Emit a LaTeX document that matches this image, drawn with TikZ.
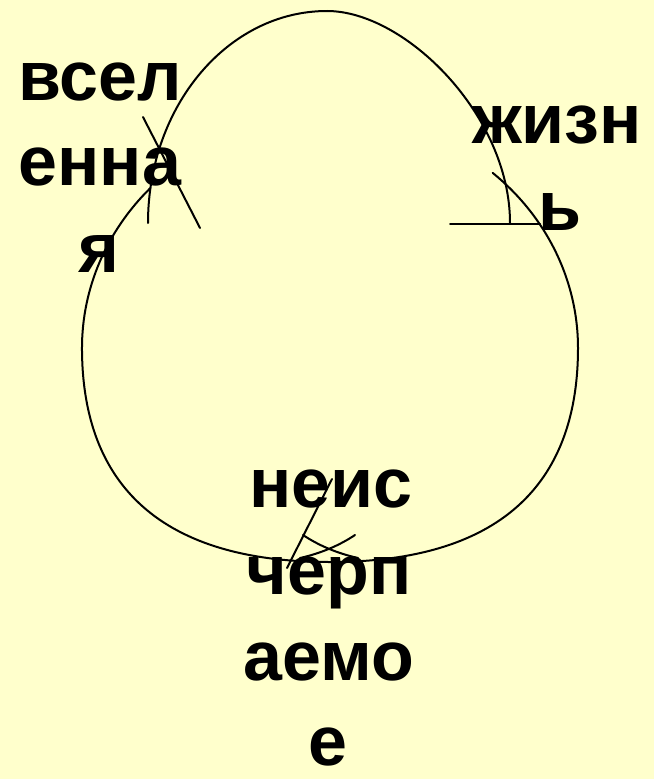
\documentclass[tikz,border=0pt]{standalone}
\usepackage{fontspec}
\setmainfont{Liberation Sans}
\definecolor{bgyellow}{HTML}{FFFFCC}
\begin{document}
\begin{tikzpicture}[x=1pt,y=-1pt,
  curve/.style={line width=2pt, line cap=round},
  lbl/.style={font=\fontsize{70}{84}\selectfont\bfseries, anchor=base, inner sep=0pt, text=black}]
\fill[bgyellow] (0,0) rectangle (654,779);
\useasboundingbox (0,0) rectangle (654,779);
% lower loop
\draw[curve] (150.4,188) arc[start angle=223.6,end angle=180,x radius=248,y radius=232]
  .. controls (82,476) and (151,562) .. (330,562)
  .. controls (509,562) and (578,476) .. (578,348)
  arc[start angle=360,end angle=311,x radius=248,y radius=232];
% upper loop
\draw[curve] (148,223) .. controls (148,106) and (228,11) .. (327,11)
  .. controls (405,11) and (510,115) .. (510,223);
% marks
\draw[curve] (143,117) -- (200,228);
\draw[curve] (450,224) -- (540,224);
\draw[curve] (332,479) -- (287,568);
\draw[curve] (303,535) .. controls (318,545) and (336,553) .. (358,558);
\draw[curve] (355,535) .. controls (340,545) and (322,553) .. (300,558);
% labels
\node[lbl] (v1) at (100,100) {всел};
\node[lbl] (v2) at (100,185) {енна};
\node[lbl] (v3) at (99,272) {я};
\node[lbl] (z1) at (557,143) {жизн};
\node[lbl] (z2) at (560,230) {ь};
\node[lbl] (n1) at (331,507) {неис};
\node[lbl] (n2) at (329,594) {черп};
\node[lbl] (n3) at (329,680) {аемо};
\node[lbl] (n4) at (328,765) {е};
\end{tikzpicture}
\end{document}
